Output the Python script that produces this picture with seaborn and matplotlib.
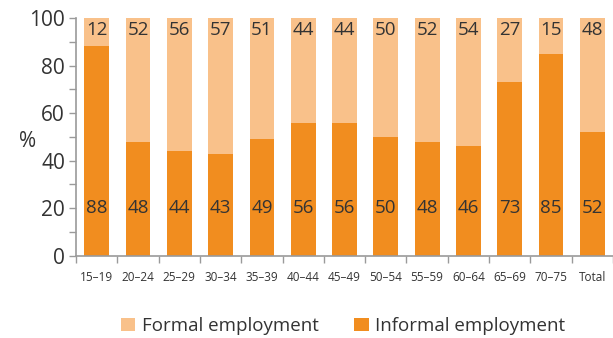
import matplotlib
matplotlib.use("Agg")
import matplotlib.pyplot as plt
import seaborn as sns
import pandas as pd
from matplotlib.ticker import MultipleLocator
from matplotlib.patches import Patch

age_groups = ["15–19", "20–24", "25–29", "30–34", "35–39", "40–44", "45–49",
              "50–54", "55–59", "60–64", "65–69", "70–75", "Total"]
informal = [88, 48, 44, 43, 49, 56, 56, 50, 48, 46, 73, 85, 52]
formal = [12, 52, 56, 57, 51, 44, 44, 50, 52, 54, 27, 15, 48]

dark = "#F18D1F"
light = "#F9C18A"
text_col = "#333333"
axis_col = "#9A9A9A"

sns.set_theme(style="white")
plt.rcParams["font.family"] = ["Open Sans", "DejaVu Sans"]

df = pd.DataFrame({"group": age_groups, "informal": informal, "formal": formal})
df["total"] = df["informal"] + df["formal"]

fig = plt.figure(figsize=(6.13, 3.38), dpi=100)
ax = fig.add_axes([0.124, 0.243, 0.876, 0.704])

sns.barplot(data=df, x="group", y="total", color=light, width=0.6,
            saturation=1, linewidth=0, ax=ax, order=age_groups)
sns.barplot(data=df, x="group", y="informal", color=dark, width=0.6,
            saturation=1, linewidth=0, ax=ax, order=age_groups)

for i, (inf, frm) in enumerate(zip(informal, formal)):
    ax.text(i, 20, f"{inf}", ha="center", va="center", fontsize=13.5, color=text_col)
    ax.text(i, 95, f"{frm}", ha="center", va="center", fontsize=13.5, color=text_col)

ax.set_xlim(-0.5, len(age_groups) - 0.5)
ax.set_ylim(0, 100)
ax.yaxis.set_major_locator(MultipleLocator(20))
ax.yaxis.set_minor_locator(MultipleLocator(10))

for s in ["top", "right"]:
    ax.spines[s].set_visible(False)
for s in ["left", "bottom"]:
    ax.spines[s].set_color(axis_col)
    ax.spines[s].set_linewidth(1.2)

ax.tick_params(axis="y", which="both", left=True, length=5, width=1,
               color=axis_col, labelsize=15, labelcolor=text_col, pad=3)
ax.tick_params(axis="x", which="major", bottom=False, labelsize=8.5,
               labelcolor=text_col, pad=5)
ax.set_xticks(range(len(age_groups)))
ax.set_xticklabels(age_groups)
ax.set_xticks([i - 0.5 for i in range(len(age_groups) + 1)], minor=True)
ax.tick_params(axis="x", which="minor", bottom=True, length=5, width=1,
               color=axis_col)

ax.set_xlabel("")
ax.set_ylabel("%", rotation=0, fontsize=15, color=text_col, va="center", ha="center")
ax.yaxis.set_label_coords(-0.09, 0.48)

handles = [Patch(facecolor=light, edgecolor="none", label="Formal employment"),
           Patch(facecolor=dark, edgecolor="none", label="Informal employment")]
fig.legend(handles=handles, loc="center", bbox_to_anchor=(0.56, 0.035),
           ncol=2, frameon=False, fontsize=13.5, labelcolor=text_col,
           handlelength=0.75, handleheight=0.75, handletextpad=0.35,
           columnspacing=1.9)

fig.savefig("out.png", dpi=100)
